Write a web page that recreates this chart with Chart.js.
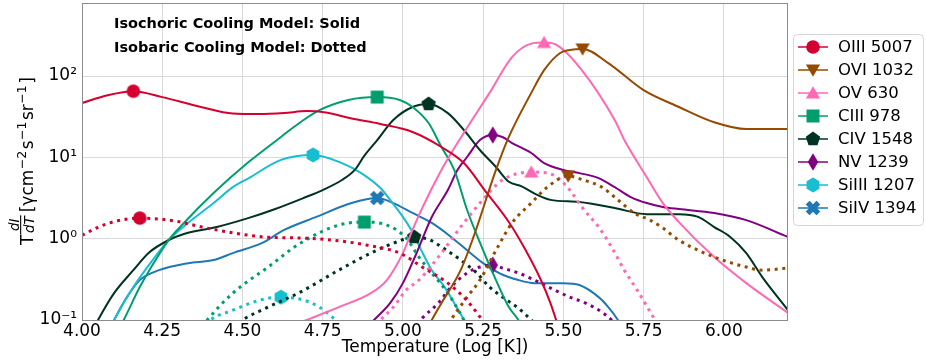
<!DOCTYPE html>
<html>
<head>
<meta charset="utf-8">
<script src="https://cdn.jsdelivr.net/npm/chart.js@4.4.0/dist/chart.umd.min.js"></script>
<style>
  html, body { margin: 0; padding: 0; background: #fff; }
  #wrap { width: 926px; height: 362px; }
</style>
</head>
<body>
<div id="wrap"><canvas id="chart" width="926" height="362"></canvas></div>
<script>
// ---- data: log T on x, T dI/dT on y ----
const ions = ['OIII 5007', 'OVI 1032', 'OV 630', 'CIII 978', 'CIV 1548', 'NV 1239', 'SiIII 1207', 'SiIV 1394'];

const oiiiSolidT = [4.00, 4.08, 4.16, 4.25, 4.37, 4.47, 4.55, 4.63, 4.70, 4.76, 4.84, 4.93, 5.03, 5.12, 5.19, 5.26, 5.33, 5.38, 5.43, 5.46, 5.49];
const oiiiSolidI = [46.5, 58, 65, 55, 41.6, 34.5, 34, 35, 37, 35.5, 30, 25.7, 20.5, 13.4, 8.5, 3.7, 1.6, 0.75, 0.31, 0.16, 0.07];
const oiiiDotT = [4.00, 4.05, 4.10, 4.18, 4.29, 4.37, 4.47, 4.58, 4.68, 4.78, 4.89, 4.99, 5.06, 5.14, 5.19, 5.24, 5.27];
const oiiiDotI = [1.1, 1.38, 1.62, 1.79, 1.65, 1.4, 1.18, 1.04, 1.02, 0.96, 0.83, 0.665, 0.448, 0.284, 0.19, 0.109, 0.07];

const oviSolidT = [5.06, 5.09, 5.12, 5.18, 5.22, 5.29, 5.33, 5.40, 5.44, 5.49, 5.52, 5.56, 5.64, 5.75, 5.86, 5.97, 6.07, 6.20];
const oviSolidI = [0.06, 0.1, 0.161, 0.41, 1.05, 7, 17.8, 62, 118, 192, 209, 215, 144, 67, 41.6, 27, 22.3, 22.3];
const oviDotT = [5.12, 5.15, 5.20, 5.24, 5.29, 5.34, 5.40, 5.45, 5.515, 5.56, 5.62, 5.67, 5.72, 5.77, 5.81, 5.86, 5.97, 6.07, 6.12, 6.20];
const oviDotI = [0.06, 0.1, 0.191, 0.31, 0.72, 1.56, 2.74, 4.3, 5.9, 5.3, 4.3, 3.0, 2.07, 1.69, 1.35, 0.96, 0.594, 0.448, 0.41, 0.435];

const ovSolidT = [4.60, 4.70, 4.80, 4.90, 4.95, 5.00, 5.03, 5.05, 5.12, 5.19, 5.27, 5.34, 5.40, 5.44, 5.48, 5.55, 5.66, 5.69, 5.76, 5.81, 5.86, 5.97, 6.07, 6.20];
const ovSolidI = [0.07, 0.1, 0.144, 0.214, 0.31, 0.665, 1.28, 1.95, 7, 20, 62, 171, 250, 258, 240, 129, 28.8, 16.3, 5.7, 2.74, 1.6, 0.594, 0.284, 0.122];
const ovDotT = [4.90, 4.93, 4.97, 5.01, 5.05, 5.12, 5.18, 5.24, 5.31, 5.40, 5.47, 5.52, 5.56, 5.61, 5.65, 5.69, 5.73, 5.78, 5.80];
const ovDotI = [0.075, 0.1, 0.144, 0.233, 0.31, 0.665, 1.39, 2.74, 5.26, 6.6, 6.05, 3.96, 2.38, 1.39, 0.79, 0.41, 0.233, 0.109, 0.08];

const ciiiSolidT = [4.10, 4.13, 4.18, 4.21, 4.27, 4.31, 4.41, 4.52, 4.62, 4.66, 4.74, 4.83, 4.92, 4.99, 5.03, 5.08, 5.12, 5.16, 5.20, 5.25, 5.29, 5.33, 5.36, 5.38];
const ciiiSolidI = [0.06, 0.1, 0.254, 0.41, 0.96, 1.45, 3.64, 8.8, 17.8, 23.6, 38, 50.7, 55, 50.7, 41.6, 26.4, 13.4, 7, 2.25, 0.72, 0.31, 0.144, 0.1, 0.07];
const ciiiDotT = [4.36, 4.39, 4.47, 4.58, 4.68, 4.80, 4.88, 4.95, 5.01, 5.05, 5.09, 5.14, 5.19, 5.21];
const ciiiDotI = [0.07, 0.1, 0.214, 0.448, 0.88, 1.47, 1.6, 1.47, 1.02, 0.594, 0.378, 0.214, 0.1, 0.07];

const civSolidT = [4.03, 4.05, 4.10, 4.16, 4.21, 4.27, 4.32, 4.42, 4.52, 4.60, 4.69, 4.75, 4.81, 4.85, 4.88, 4.92, 4.97, 5.03, 5.08, 5.14, 5.19, 5.24, 5.29, 5.33, 5.37, 5.42, 5.46, 5.55, 5.66, 5.76, 5.86, 5.92, 5.97, 6.02, 6.07, 6.12, 6.20];
const civSolidI = [0.07, 0.1, 0.214, 0.41, 0.68, 0.96, 1.15, 1.39, 1.8, 2.3, 3.16, 3.96, 5.26, 7, 10.5, 16.3, 28.8, 41.6, 45.3, 35, 21.7, 12.3, 7.6, 5.0, 4.4, 3.43, 3.0, 2.82, 2.38, 2.0, 2.0, 1.85, 1.39, 1.05, 0.665, 0.337, 0.132];
const civDotT = [4.47, 4.50, 4.58, 4.68, 4.80, 4.90, 4.98, 5.035, 5.085, 5.125, 5.18, 5.23, 5.27, 5.31, 5.36, 5.40, 5.42];
const civDotI = [0.08, 0.1, 0.144, 0.22, 0.41, 0.665, 0.91, 1.05, 0.96, 0.77, 0.546, 0.378, 0.254, 0.191, 0.14, 0.1, 0.085];

const nvSolidT = [4.87, 4.91, 4.96, 5.00, 5.04, 5.09, 5.14, 5.17, 5.20, 5.24, 5.28, 5.31, 5.34, 5.40, 5.44, 5.50, 5.55, 5.61, 5.66, 5.71, 5.76, 5.81, 5.86, 5.97, 6.07, 6.20];
const nvSolidI = [0.07, 0.1, 0.161, 0.284, 0.63, 1.85, 3.96, 7, 10.1, 16.3, 18.8, 17.8, 15, 11.3, 8.5, 7, 6.4, 5.56, 4.3, 3.25, 2.74, 2.45, 2.31, 2.07, 1.69, 1.05];
const nvDotT = [5.03, 5.06, 5.11, 5.15, 5.20, 5.24, 5.28, 5.31, 5.36, 5.41, 5.46, 5.52, 5.57, 5.62, 5.65, 5.67];
const nvDotI = [0.075, 0.105, 0.161, 0.254, 0.378, 0.448, 0.473, 0.435, 0.378, 0.31, 0.247, 0.191, 0.161, 0.125, 0.1, 0.08];

const siiiSolidT = [4.08, 4.10, 4.16, 4.22, 4.27, 4.33, 4.41, 4.47, 4.52, 4.62, 4.72, 4.81, 4.87, 4.93, 4.96, 5.00, 5.03, 5.055, 5.09, 5.13, 5.16, 5.19, 5.20];
const siiiSolidI = [0.07, 0.1, 0.254, 0.546, 0.96, 1.56, 2.74, 4.3, 5.56, 9.3, 10.7, 8.5, 6.4, 4.19, 3.0, 1.85, 1.2, 0.75, 0.41, 0.254, 0.161, 0.1, 0.08];
const siiiDotT = [4.37, 4.40, 4.47, 4.555, 4.62, 4.69, 4.74, 4.79, 4.81];
const siiiDotI = [0.075, 0.1, 0.132, 0.176, 0.191, 0.176, 0.144, 0.1, 0.085];

const sivSolidT = [4.08, 4.10, 4.14, 4.18, 4.24, 4.33, 4.41, 4.47, 4.56, 4.63, 4.73, 4.84, 4.92, 4.97, 5.03, 5.09, 5.15, 5.20, 5.25, 5.30, 5.36, 5.41, 5.50, 5.55, 5.61, 5.64, 5.67, 5.68];
const sivSolidI = [0.07, 0.1, 0.191, 0.31, 0.41, 0.5, 0.546, 0.665, 0.88, 1.28, 1.85, 2.74, 3.16, 2.74, 2.07, 1.56, 1.05, 0.72, 0.5, 0.378, 0.31, 0.284, 0.284, 0.269, 0.191, 0.144, 0.1, 0.085];

// which point of each curve carries the marker
const solidMark = [2, 11, 13, 12, 18, 10, 10, 12];
const dotMark = [3, 8, 9, 6, 7, 6, 4, null];

const xTickValues = [4.00, 4.25, 4.50, 4.75, 5.00, 5.25, 5.50, 5.75, 6.00];
const xTickLabels = ['4.00', '4.25', '4.50', '4.75', '5.00', '5.25', '5.50', '5.75', '6.00'];
const yTickValues = [0.1, 1, 10, 100];
const yTickLabels = ['10\u207b\u00b9', '10\u2070', '10\u00b9', '10\u00b2'];

// ---- styles ----
const colors = ['#d40030', '#954a00', '#ff69b4', '#009e6d', '#003322', '#800080', '#17becf', '#1f77b4'];
const shapes = ['circle', 'triDown', 'triUp', 'square', 'pentagon', 'diamond', 'hexagon', 'xfill'];
const FONT = '"DejaVu Sans", sans-serif';

function makeMarker(shape, color) {
  const c = document.createElement('canvas');
  c.width = 22; c.height = 22;
  const g = c.getContext('2d');
  g.translate(11, 11);
  g.fillStyle = color;
  g.beginPath();
  const poly = (n, r, rot) => {
    for (let k = 0; k < n; k++) {
      const a = rot + k * 2 * Math.PI / n;
      if (k === 0) g.moveTo(r * Math.cos(a), r * Math.sin(a));
      else g.lineTo(r * Math.cos(a), r * Math.sin(a));
    }
    g.closePath();
  };
  switch (shape) {
    case 'circle': g.arc(0, 0, 6.8, 0, Math.PI * 2); break;
    case 'triDown': g.translate(0, -1.5); poly(3, 8.2, Math.PI / 2); break;
    case 'triUp': g.translate(0, 1.5); poly(3, 8.2, -Math.PI / 2); break;
    case 'square': g.rect(-6.5, -6.5, 13, 13); break;
    case 'pentagon': poly(5, 7.6, -Math.PI / 2); break;
    case 'diamond': g.moveTo(0, -8.8); g.lineTo(5.2, 0); g.lineTo(0, 8.8); g.lineTo(-5.2, 0); g.closePath(); break;
    case 'hexagon': poly(6, 7.4, -Math.PI / 2); break;
    case 'xfill': {
      const a = 7.6, b = 2.7;
      const pts = [[b, -a], [b, -b], [a, -b], [a, b], [b, b], [b, a], [-b, a], [-b, b], [-a, b], [-a, -b], [-b, -b], [-b, -a]];
      g.rotate(Math.PI / 4);
      pts.forEach((p, k) => k ? g.lineTo(p[0], p[1]) : g.moveTo(p[0], p[1]));
      g.closePath();
      break;
    }
  }
  g.fill();
  return c;
}
const markers = shapes.map((s, i) => makeMarker(s, colors[i]));

function series(xs, ys, mark, i, dotted) {
  return {
    label: ions[i] + (dotted ? ' isobaric' : ''),
    data: xs.map((x, k) => ({ x: x, y: ys[k] })),
    borderColor: colors[i],
    backgroundColor: colors[i],
    borderWidth: dotted ? 3 : 2,
    borderDash: dotted ? [3, 4.6] : [],
    borderCapStyle: 'butt',
    pointStyle: markers[i],
    pointRadius: ctx => ctx.dataIndex === mark ? 7 : 0,
    cubicInterpolationMode: 'monotone',
    showLine: true,
    fill: false
  };
}

const solidT = [oiiiSolidT, oviSolidT, ovSolidT, ciiiSolidT, civSolidT, nvSolidT, siiiSolidT, sivSolidT];
const solidI = [oiiiSolidI, oviSolidI, ovSolidI, ciiiSolidI, civSolidI, nvSolidI, siiiSolidI, sivSolidI];
const dotT = [oiiiDotT, oviDotT, ovDotT, ciiiDotT, civDotT, nvDotT, siiiDotT, null];
const dotI = [oiiiDotI, oviDotI, ovDotI, ciiiDotI, civDotI, nvDotI, siiiDotI, null];

const datasets = [];
ions.forEach((name, i) => {
  datasets.push(series(solidT[i], solidI[i], solidMark[i], i, false));
  if (dotT[i]) datasets.push(series(dotT[i], dotI[i], dotMark[i], i, true));
});

// frame, text notes, y-axis title and legend
const decor = {
  id: 'decor',
  afterDraw(chart) {
    const ctx = chart.ctx;
    const a = chart.chartArea;
    ctx.save();
    ctx.strokeStyle = '#8c8c8c';
    ctx.lineWidth = 1;
    ctx.strokeRect(a.left + 0.5, a.top + 0.5, a.right - a.left - 1, a.bottom - a.top);

    // notes
    ctx.fillStyle = '#000';
    ctx.font = 'bold 14.5px ' + FONT;
    ctx.textBaseline = 'alphabetic';
    ctx.textAlign = 'left';
    ctx.fillText('Isochoric Cooling Model: Solid', 114, 28);
    ctx.fillText('Isobaric Cooling Model: Dotted', 114, 52);

    // y title, rotated
    ctx.save();
    ctx.translate(33, 245);
    ctx.rotate(-Math.PI / 2);
    ctx.font = '17px ' + FONT;
    ctx.fillText('T', 0, 0);
    let u = ctx.measureText('T').width + 0.5;
    ctx.font = 'italic 13.5px ' + FONT;
    const wN = ctx.measureText('dI').width, wD = ctx.measureText('dT').width;
    const wF = Math.max(wN, wD) + 2;
    ctx.fillText('dI', u + (wF - wN) / 2, -14.5);
    ctx.fillText('dT', u + (wF - wD) / 2, 0.5);
    ctx.fillRect(u, -12.9, wF, 1.1);
    u += wF + 3;
    const parts = [['[\u03b3cm', 0], ['\u22122', 1], ['s', 0], ['\u22121', 1], ['sr', 0], ['\u22121', 1], [']', 0]];
    parts.forEach(p => {
      ctx.font = (p[1] ? '12.5px ' : '17px ') + FONT;
      ctx.fillText(p[0], u, p[1] ? -7 : 0);
      u += ctx.measureText(p[0]).width + (p[1] ? 1.5 : 0.5);
    });
    ctx.restore();

    // legend
    const lx = 793.5, ly = 34.5, lw = 130, lh = 191;
    ctx.beginPath();
    ctx.roundRect(lx, ly, lw, lh, 4);
    ctx.fillStyle = 'rgba(255,255,255,0.8)';
    ctx.fill();
    ctx.strokeStyle = '#d6d6d6';
    ctx.stroke();
    ctx.font = '16.5px ' + FONT;
    ctx.textBaseline = 'middle';
    ions.forEach((name, i) => {
      const y = 47 + i * 23;
      ctx.strokeStyle = colors[i];
      ctx.lineWidth = 1.5;
      ctx.beginPath();
      ctx.moveTo(798, y);
      ctx.lineTo(828, y);
      ctx.stroke();
      const m = markers[i];
      ctx.drawImage(m, 813 - m.width / 2, y - m.height / 2);
      ctx.fillStyle = '#000';
      ctx.fillText(name, 838, y + 1);
    });
    ctx.restore();
  }
};

new Chart(document.getElementById('chart'), {
  type: 'scatter',
  data: { datasets: datasets },
  options: {
    responsive: false,
    animation: false,
    events: [],
    layout: { padding: { left: 0, right: 138, top: 3, bottom: 0 } },
    plugins: { legend: { display: false }, tooltip: { enabled: false } },
    scales: {
      x: {
        type: 'linear',
        min: 4.0,
        max: 6.2,
        afterBuildTicks: s => { s.ticks = xTickValues.map(v => ({ value: v })); },
        afterFit: s => { s.height = 42; s.paddingLeft = 0; s.paddingRight = 0; },
        ticks: {
          autoSkip: false,
          maxRotation: 0,
          padding: 1,
          color: '#000',
          font: { family: FONT, size: 17 },
          callback: (v, i) => xTickLabels[i]
        },
        grid: { color: '#d9d9d9', lineWidth: 1, drawTicks: false },
        border: { display: false },
        title: {
          display: true,
          text: 'Temperature (Log [K])',
          color: '#000',
          font: { family: FONT, size: 17 },
          padding: { top: 0, bottom: 4 }
        }
      },
      y: {
        type: 'logarithmic',
        min: 0.1,
        max: 790,
        afterBuildTicks: s => { s.ticks = yTickValues.map(v => ({ value: v })); },
        afterFit: s => { s.width = 82; s.paddingTop = 0; s.paddingBottom = 0; },
        ticks: {
          autoSkip: false,
          padding: 5,
          color: '#000',
          font: { family: FONT, size: 17 },
          callback: (v, i) => yTickLabels[i]
        },
        grid: { color: '#d9d9d9', lineWidth: 1, drawTicks: false },
        border: { display: false }
      }
    }
  },
  plugins: [decor]
});
</script>
</body>
</html>
